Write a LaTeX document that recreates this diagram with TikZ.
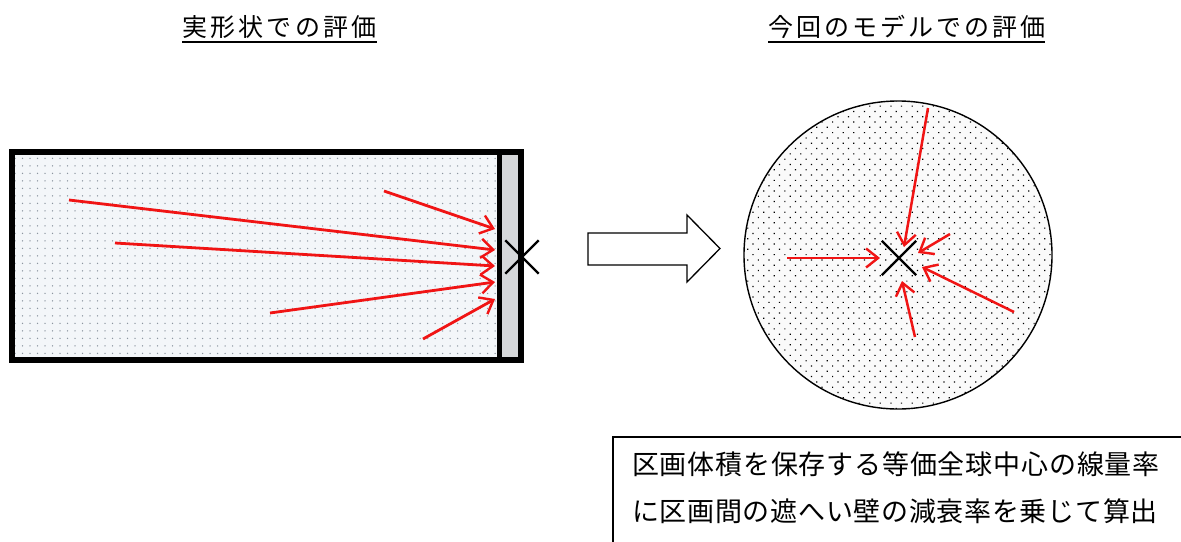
\documentclass[tikz,border=0pt]{standalone}
\usepackage{fontspec}
\setmainfont{Noto Sans CJK JP}
\usetikzlibrary{arrows.meta,patterns.meta,shapes.misc,positioning}
\definecolor{roomfill}{HTML}{F3F6F9}
\definecolor{roomdot}{HTML}{8C96A0}
\definecolor{wallgray}{HTML}{D6D8DA}
\definecolor{rayred}{HTML}{F01414}
% CJK text at a fixed pitch: one cell per character
\makeatletter
\newcommand\pitchjp[2]{\@tfor\jpch:=#2\do{\makebox[#1][l]{\jpch}}}
\makeatother
\tikzset{
  ttl/.style={font=\fontsize{25}{25}\selectfont, inner sep=0pt, anchor=base west},
  uline/.style={line width=2.8pt},
  ray/.style={rayred, line width=2.8pt, -{Straight Barb[length=12pt,width=19pt,line width=2.4pt]}},
  cray/.style={ray, line width=2.5pt},
  pnt/.style={cross out, draw, line width=2.4pt, inner sep=0pt, minimum size=31pt},
  note/.style={font=\fontsize{27}{27}\selectfont, inner sep=0pt, anchor=base west}
}

\begin{document}
\begin{tikzpicture}[x=1pt, y=-1pt]
  \useasboundingbox (0,0) rectangle (1181,541);
  \clip (0,0) rectangle (1181,541);
  % Titles
  \node[ttl] (ttlA) at (182,36) {\pitchjp{28.2pt}{実形状での評価}};
  \node[ttl] (ttlB) at (768,36) {\pitchjp{28pt}{今回のモデルでの評価}};
  \draw[uline] ([yshift=-6pt]ttlA.base west) -- ([yshift=-6pt,xshift=-3pt]ttlA.base east);
  \draw[uline] ([yshift=-6pt]ttlB.base west) -- ([yshift=-6pt,xshift=-3pt]ttlB.base east);
  % Real shape: room and wall
  \fill[roomfill] (12,152) rectangle (499,360);
  \fill[pattern={Dots[distance=7.5pt,radius=0.75pt]}, pattern color=roomdot]
       (12,152) rectangle (499,360);
  \fill[wallgray] (499,152) rectangle (521,360);
  \draw[line width=6pt] (12,152) rectangle (521,360);
  \draw[line width=5pt] (499.5,152) -- (499.5,360);
  \node[pnt] (lp) at (522,257) {};
  % Rays to the wall
  \coordinate (lsA) at (384,191);  \coordinate (ltA) at (495,229);
  \coordinate (lsB) at (69,200);   \coordinate (ltB) at (495,250);
  \coordinate (lsC) at (115,243);  \coordinate (ltC) at (495,266);
  \coordinate (lsD) at (270,313);  \coordinate (ltD) at (495,282);
  \coordinate (lsE) at (423,339);  \coordinate (ltE) at (495,299);
  \foreach \k in {A,B,C,D,E}
    \draw[ray] (ls\k) -- (lt\k);
  % Hollow arrow
  \draw[line width=1.3pt] (588,233) -- (687,233) -- (687,215) -- (720,248.5)
       -- (687,282) -- (687,265) -- (588,265) -- cycle;
  % Model: equivalent sphere
  \node[circle, draw, line width=1.4pt, inner sep=0pt, minimum size=308pt,
        preaction={fill=white!98!black},
        pattern={Dots[distance=7.5pt,radius=0.85pt,angle=45]}, pattern color=black]
       (sph) at (898,255) {};
  \node[pnt, minimum size=32pt] (cp) at (899,258) {};
  \coordinate (csA) at (928,108);  \coordinate (ctA) at (904,247);
  \coordinate (csB) at (950,234);  \coordinate (ctB) at (918,253);
  \coordinate (csC) at (787,258);  \coordinate (ctC) at (880,258);
  \coordinate (csD) at (1014,312); \coordinate (ctD) at (922,267);
  \coordinate (csE) at (915,337);  \coordinate (ctE) at (902,281);
  \foreach \k in {A,B,C,D,E}
    \draw[cray] (cs\k) -- (ct\k);
  % Note box
  \draw[line width=1.3pt] (613,437) rectangle (1200,560);
  \node[note] (noteA) at (632,474) {\pitchjp{27.8pt}{区画体積を保存する等価全球中心の線量率}};
  \node[note] (noteB) at (632,521) {\pitchjp{27.7pt}{に区画間の遮へい壁の減衰率を乗じて算出}};
\end{tikzpicture}
\end{document}
